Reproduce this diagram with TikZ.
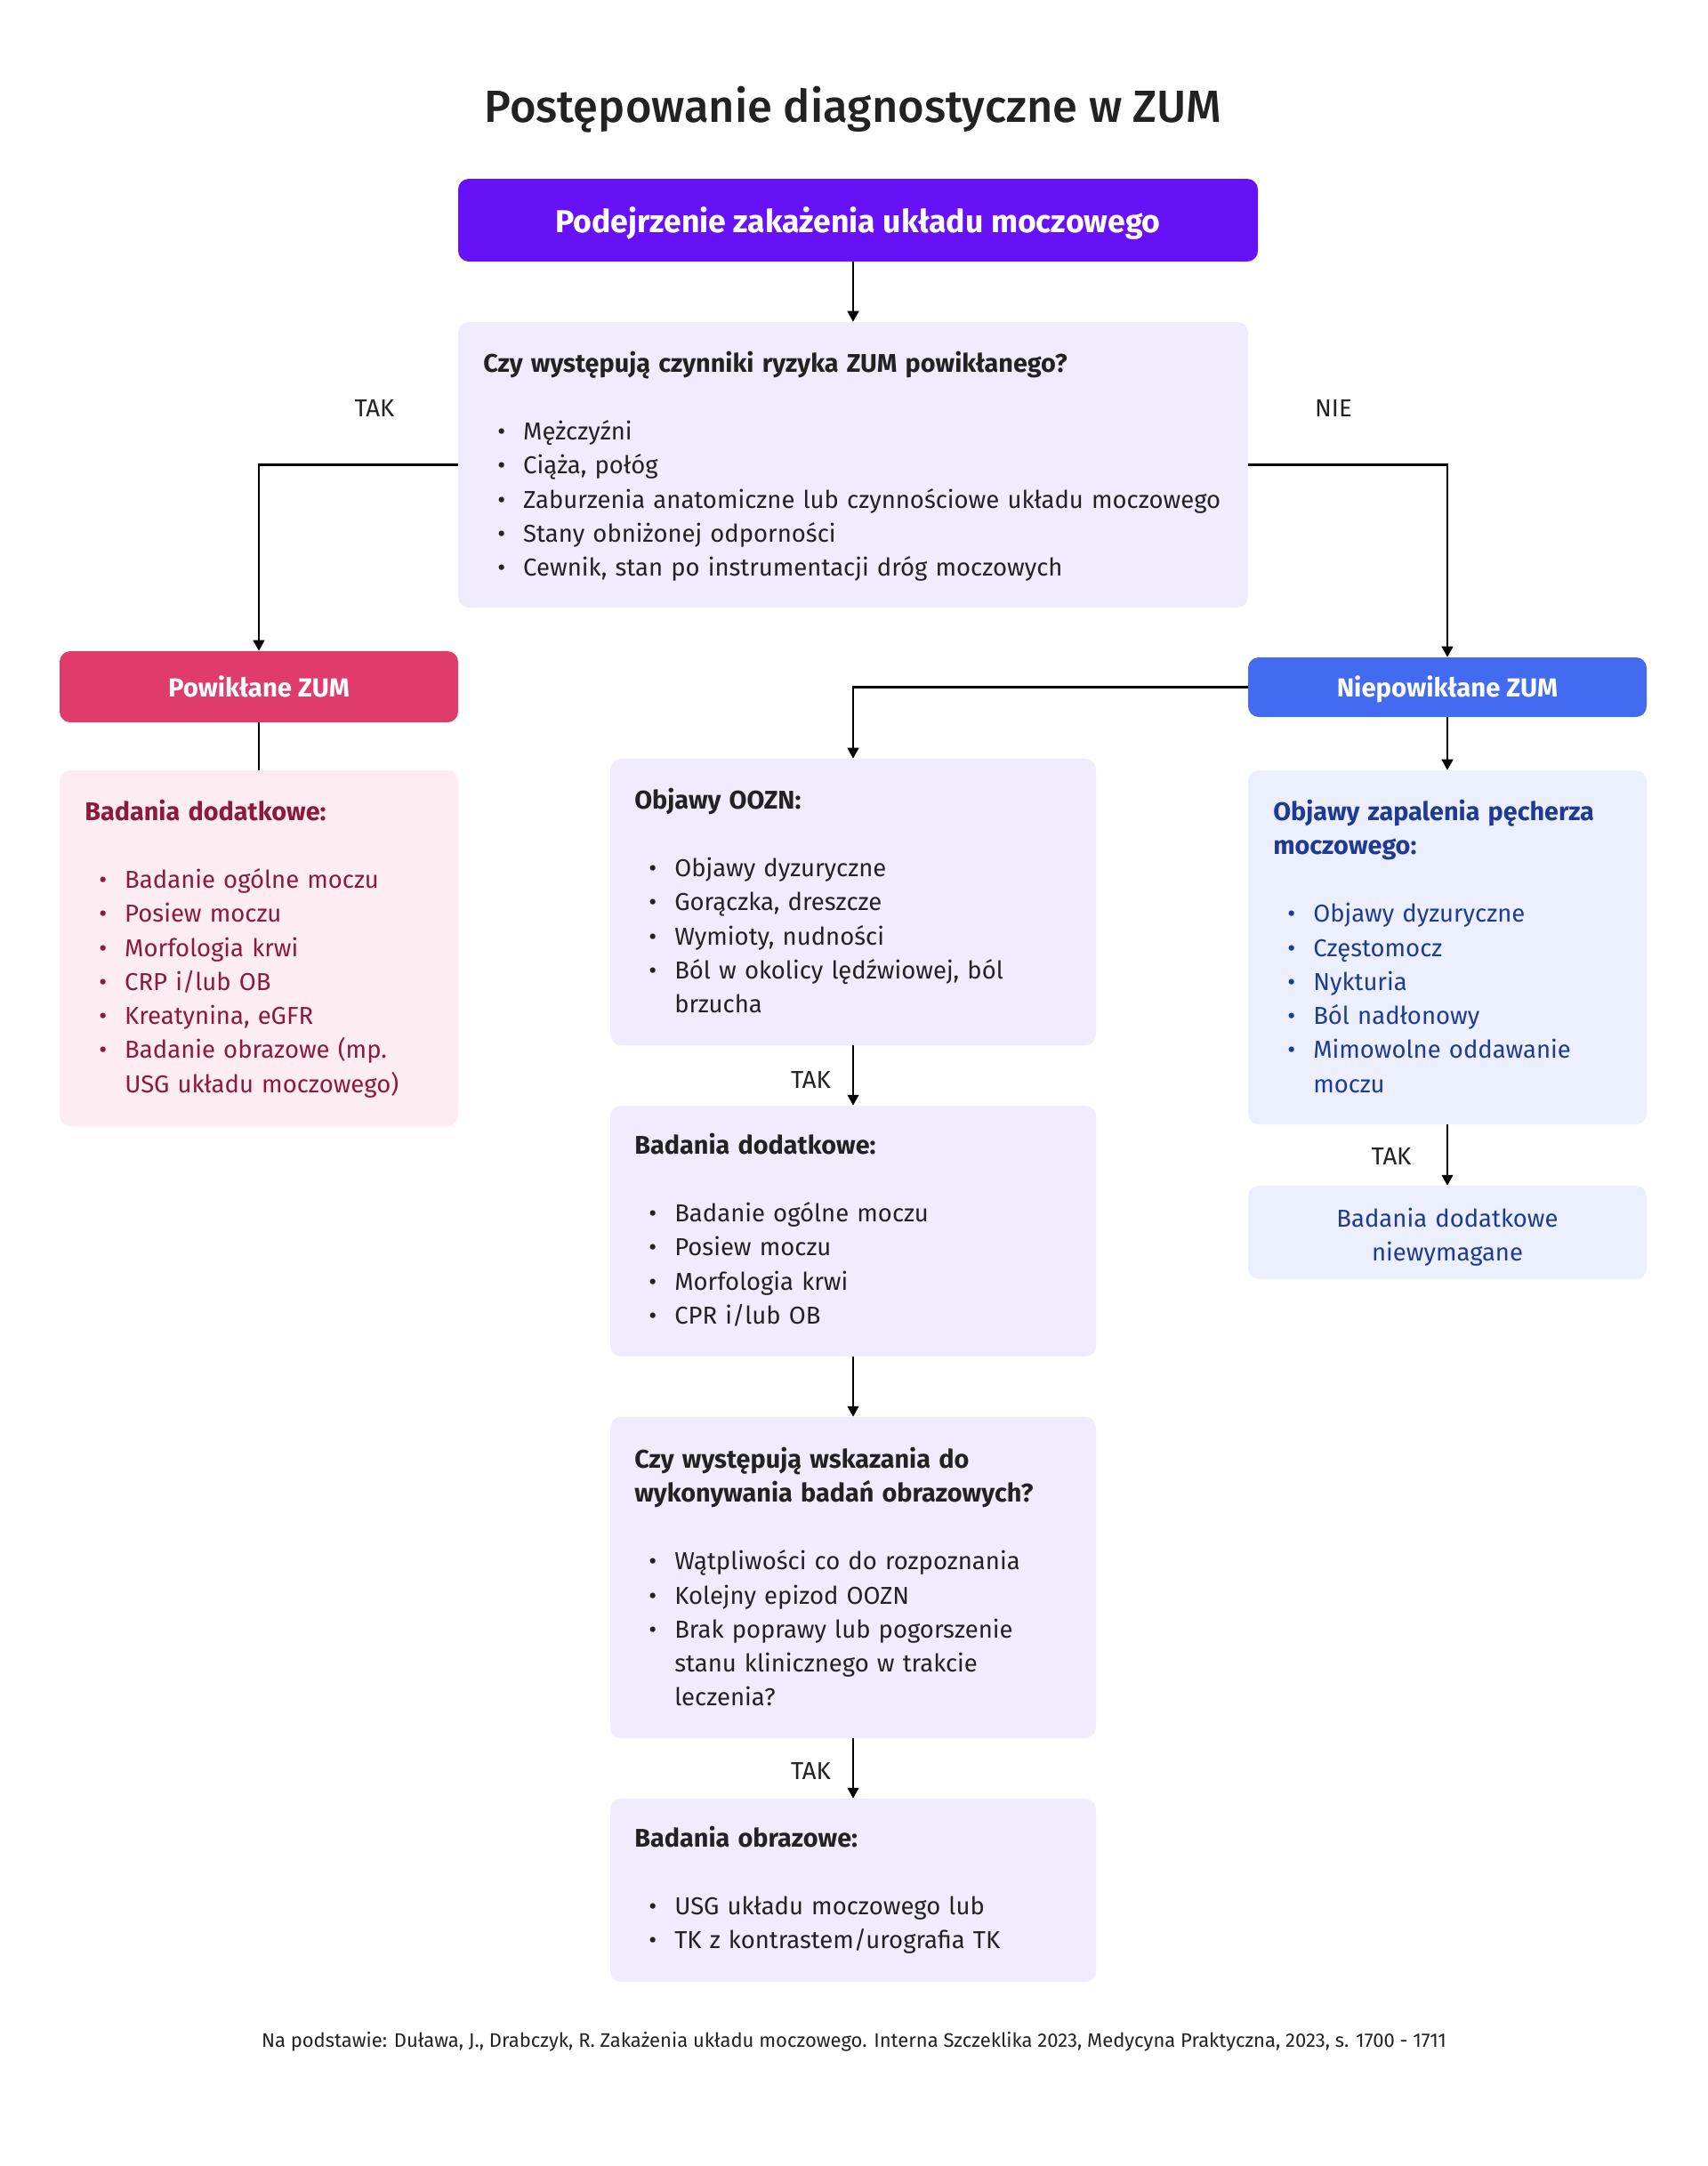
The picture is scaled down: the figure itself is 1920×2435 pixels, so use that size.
\documentclass[tikz,border=0pt]{standalone}
\usepackage{fontspec}
\setmainfont{Fira Sans}
\newfontfamily\medfont{Fira Sans Medium}
\usetikzlibrary{arrows.meta,fit}
\definecolor{purp}{HTML}{6711F8}
\definecolor{lav}{HTML}{F0ECFD}
\definecolor{pinkh}{HTML}{E03C6B}
\definecolor{pinkbg}{HTML}{FDECF1}
\definecolor{pinktx}{HTML}{8B1A3D}
\definecolor{blueh}{HTML}{426BF2}
\definecolor{bluebg}{HTML}{ECEFFD}
\definecolor{bluetx}{HTML}{1F3A94}
\definecolor{ink}{HTML}{222222}
\newcommand\bodyfont{\fontsize{20.6pt}{28.7pt}\selectfont}
\newcommand\bt[1]{{\fontsize{21.6pt}{28.7pt}\selectfont\bfseries #1}}
\newcommand\bul{\makebox[33.75pt][l]{\hspace{12pt}\textbullet}}
\newcommand\cnt{\hspace*{33.75pt}}
\newcommand\gap{\\[28.7pt]}
\begin{document}
\begin{tikzpicture}[x=0.75pt,y=-0.75pt,
  box/.style={inner sep=0pt, rounded corners=9pt, draw=none},
  hdrtext/.style={anchor=base, inner sep=0pt, text=white, font=\fontsize{22pt}{26pt}\selectfont\bfseries},
  txt/.style={anchor=base west, inner sep=0pt, align=left, text width=700pt, font=\bodyfont},
  arr/.style={line width=1.6pt, draw=black, -{Triangle[length=9pt,width=9.5pt]}},
  ln/.style={line width=1.6pt, draw=black},
  lab/.style={anchor=base, inner sep=0pt, font=\bodyfont, text=ink}]
\useasboundingbox[fill=white] (0,0) rectangle (1920,2435);

% title
\node[anchor=base, inner sep=0pt, text=ink, font=\fontsize{38pt}{42pt}\medfont] (title) at (959,137) {Postępowanie diagnostyczne w ZUM};

% boxes
\node[box, fill=purp, fit={(515,201) (1414,294)}] (top) {};
\node[box, fill=lav, fit={(515,362) (1403,683)}] (q) {};
\node[box, fill=pinkh, fit={(67,732) (515,812)}] (powh) {};
\node[box, fill=pinkbg, fit={(67,866) (515,1266)}] (pinkb) {};
\node[box, fill=blueh, fit={(1403,739) (1851,806)}] (nieh) {};
\node[box, fill=bluebg, fit={(1403,866) (1851,1264)}] (blueb) {};
\node[box, fill=bluebg, fit={(1403,1333) (1851,1438)}] (niew) {};
\node[box, fill=lav, fit={(686,853) (1232,1175)}] (oozn) {};
\node[box, fill=lav, fit={(686,1243) (1232,1525)}] (bad) {};
\node[box, fill=lav, fit={(686,1593) (1232,1954)}] (wsk) {};
\node[box, fill=lav, fit={(686,2022) (1232,2228)}] (obr) {};

% header texts
\node[hdrtext, font=\fontsize{26.7pt}{30pt}\selectfont\bfseries] (toptx) at (964.5,261) {Podejrzenie zakażenia układu moczowego};
\node[hdrtext] (powhtx) at (291,783) {Powikłane ZUM};
\node[hdrtext] (niehtx) at (1627,783) {Niepowikłane ZUM};

% box texts
\node[txt, text=ink] (qtx) at (543,418) {\bt{Czy występują czynniki ryzyka ZUM powikłanego?}\gap
\bul Mężczyźni\\
\bul Ciąża, połóg\\
\bul Zaburzenia anatomiczne lub czynnościowe układu moczowego\\
\bul Stany obniżonej odporności\\
\bul Cewnik, stan po instrumentacji dróg moczowych};

\node[txt, text=pinktx] (pinktx) at (95,922) {\bt{Badania dodatkowe:}\gap
\bul Badanie ogólne moczu\\
\bul Posiew moczu\\
\bul Morfologia krwi\\
\bul CRP i/lub OB\\
\bul Kreatynina, eGFR\\
\bul Badanie obrazowe (mp.\\
\cnt USG układu moczowego)};

\node[txt, text=bluetx] (bluetx) at (1431,922) {\bt{Objawy zapalenia pęcherza}\\
\bt{moczowego:}\gap
\bul Objawy dyzuryczne\\
\bul Częstomocz\\
\bul Nykturia\\
\bul Ból nadłonowy\\
\bul Mimowolne oddawanie\\
\cnt moczu};

\node[anchor=base, inner sep=0pt, align=center, text width=400pt, font=\bodyfont, text=bluetx] (niewtx) at (1627,1379) {Badania dodatkowe\\niewymagane};

\node[txt, text=ink] (ooztx) at (713,909) {\bt{Objawy OOZN:}\gap
\bul Objawy dyzuryczne\\
\bul Gorączka, dreszcze\\
\bul Wymioty, nudności\\
\bul Ból w okolicy lędźwiowej, ból\\
\cnt brzucha};

\node[txt, text=ink] (badtx) at (713,1297) {\bt{Badania dodatkowe:}\gap
\bul Badanie ogólne moczu\\
\bul Posiew moczu\\
\bul Morfologia krwi\\
\bul CPR i/lub OB};

\node[txt, text=ink] (wsktx) at (713,1650) {\bt{Czy występują wskazania do}\\
\bt{wykonywania badań obrazowych?}\gap
\bul Wątpliwości co do rozpoznania\\
\bul Kolejny epizod OOZN\\
\bul Brak poprawy lub pogorszenie\\
\cnt stanu klinicznego w trakcie\\
\cnt leczenia?};

\node[txt, text=ink] (obrtx) at (713,2076) {\bt{Badania obrazowe:}\gap
\bul USG układu moczowego lub\\
\bul TK z kontrastem/urografia TK};

% connectors
\draw[arr] (q.north |- top.south) -- (q.north);
\draw[arr] (q.west) -| (powh.north);
\draw[arr] (q.east) -| (nieh.north);
\draw[ln] (powh.south) -- (pinkb.north);
\draw[arr] (nieh.west) -| (oozn.north);
\draw[arr] (nieh.south) -- (blueb.north);
\draw[arr] (blueb.south) -- (niew.north);
\draw[arr] (oozn.south) -- (bad.north);
\draw[arr] (bad.south) -- (wsk.north);
\draw[arr] (wsk.south) -- (obr.north);

% labels
\node[lab] (takl) at (421,468) {TAK};
\node[lab] (nie) at (1499,468) {NIE};
\node[lab] (tak1) at (911.5,1223) {TAK};
\node[lab] (tak2) at (911.5,2000) {TAK};
\node[lab] (tak3) at (1564,1309) {TAK};

% footer
\node[anchor=base, inner sep=0pt, text=ink, font=\fontsize{16.5pt}{19pt}\selectfont] (foot) at (960,2301) {Na podstawie: Duława, J., Drabczyk, R. Zakażenia układu moczowego. Interna Szczeklika 2023, Medycyna Praktyczna, 2023, s. 1700 - 1711};
\end{tikzpicture}
\end{document}
